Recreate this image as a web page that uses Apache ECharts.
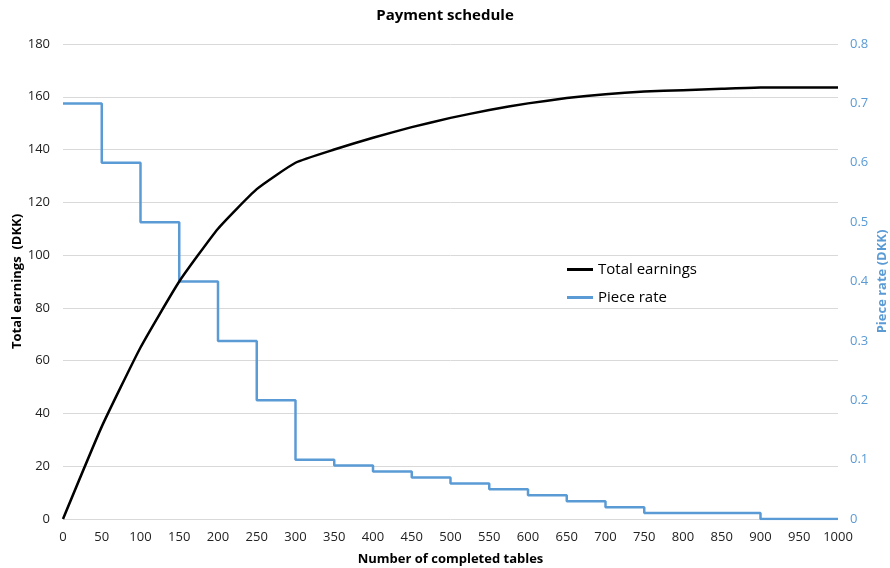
<!DOCTYPE html>
<html>
<head>
<meta charset="utf-8">
<script src="https://cdn.jsdelivr.net/npm/echarts@6/dist/echarts.min.js"></script>
<style>
  html, body { margin: 0; padding: 0; background: #fff; }
  #chart { width: 890px; height: 568px; }
</style>
</head>
<body>
<div id="chart"></div>
<script>
const tables = [0, 50, 100, 150, 200, 250, 300, 350, 400, 450, 500, 550, 600, 650, 700, 750, 800, 850, 900, 950, 1000]
const totalEarnings = [0, 35, 65, 90, 110, 125, 135, 140, 144.5, 148.5, 152, 155, 157.5, 159.5, 161, 162, 162.5, 163, 163.5, 163.5, 163.5]
const pieceRate = [0.7, 0.6, 0.5, 0.4, 0.3, 0.2, 0.1, 0.09, 0.08, 0.07, 0.06, 0.05, 0.04, 0.03, 0.02, 0.01, 0.01, 0.01, 0, 0, 0]

const font = '"Open Sans", "Liberation Sans", sans-serif'
const blue = '#5B9BD5'

const chart = echarts.init(document.getElementById('chart'))
chart.setOption({
    textStyle: { fontFamily: font },
    title: {
        text: 'Payment schedule',
        left: 'center',
        top: 3,
        textStyle: { fontSize: 15, fontWeight: 'bold', color: '#000', fontFamily: font }
    },
    legend: {
        orient: 'vertical',
        left: 562,
        top: 257,
        itemWidth: 26,
        itemHeight: 3,
        itemGap: 13,
        icon: 'rect',
        textStyle: { fontSize: 15, color: '#000', fontFamily: font },
        data: ['Total earnings', 'Piece rate']
    },
    grid: { left: 63, right: 52, top: 44, bottom: 49, containLabel: false, outerBoundsMode: 'none' },
    xAxis: {
        type: 'value',
        min: 0,
        max: 1000,
        interval: 50,
        name: 'Number of completed tables',
        nameLocation: 'middle',
        nameGap: 34,
        nameTextStyle: { fontSize: 13, fontWeight: 'bold', color: '#000' },
        axisLine: { show: false },
        axisTick: { show: false },
        axisLabel: { fontSize: 13, color: '#222', margin: 12, formatter: v => String(v) },
        splitLine: { show: false }
    },
    yAxis: [
        {
            type: 'value',
            min: 0,
            max: 180,
            interval: 20,
            name: 'Total earnings  (DKK)',
            nameLocation: 'middle',
            nameGap: 39,
            nameMoveOverlap: false,
            nameTextStyle: { fontSize: 13, fontWeight: 'bold', color: '#000' },
            axisLine: { show: false },
            axisTick: { show: false },
            axisLabel: { fontSize: 13, color: '#222', margin: 13 },
            splitLine: { lineStyle: { color: '#d9d9d9', width: 1 } }
        },
        {
            type: 'value',
            min: 0,
            max: 0.8,
            interval: 0.1,
            name: 'Piece rate (DKK)',
            nameLocation: 'middle',
            nameGap: 38,
            nameRotate: 90,
            nameMoveOverlap: false,
            nameTextStyle: { fontSize: 13, fontWeight: 'bold', color: blue },
            axisLine: { show: false },
            axisTick: { show: false },
            axisLabel: { fontSize: 13, color: blue, margin: 12 },
            splitLine: { show: false }
        }
    ],
    series: [
        {
            name: 'Piece rate',
            type: 'line',
            yAxisIndex: 1,
            step: 'end',
            symbol: 'none',
            data: tables.map((t, i) => [t, pieceRate[i]]),
            lineStyle: { color: blue, width: 2.5 },
            itemStyle: { color: blue }
        },
        {
            name: 'Total earnings',
            type: 'line',
            yAxisIndex: 0,
            symbol: 'none',
            smooth: 0.15,
            data: tables.map((t, i) => [t, totalEarnings[i]]),
            lineStyle: { color: '#000', width: 2.5 },
            itemStyle: { color: '#000' }
        }
    ]
})
</script>
</body>
</html>
